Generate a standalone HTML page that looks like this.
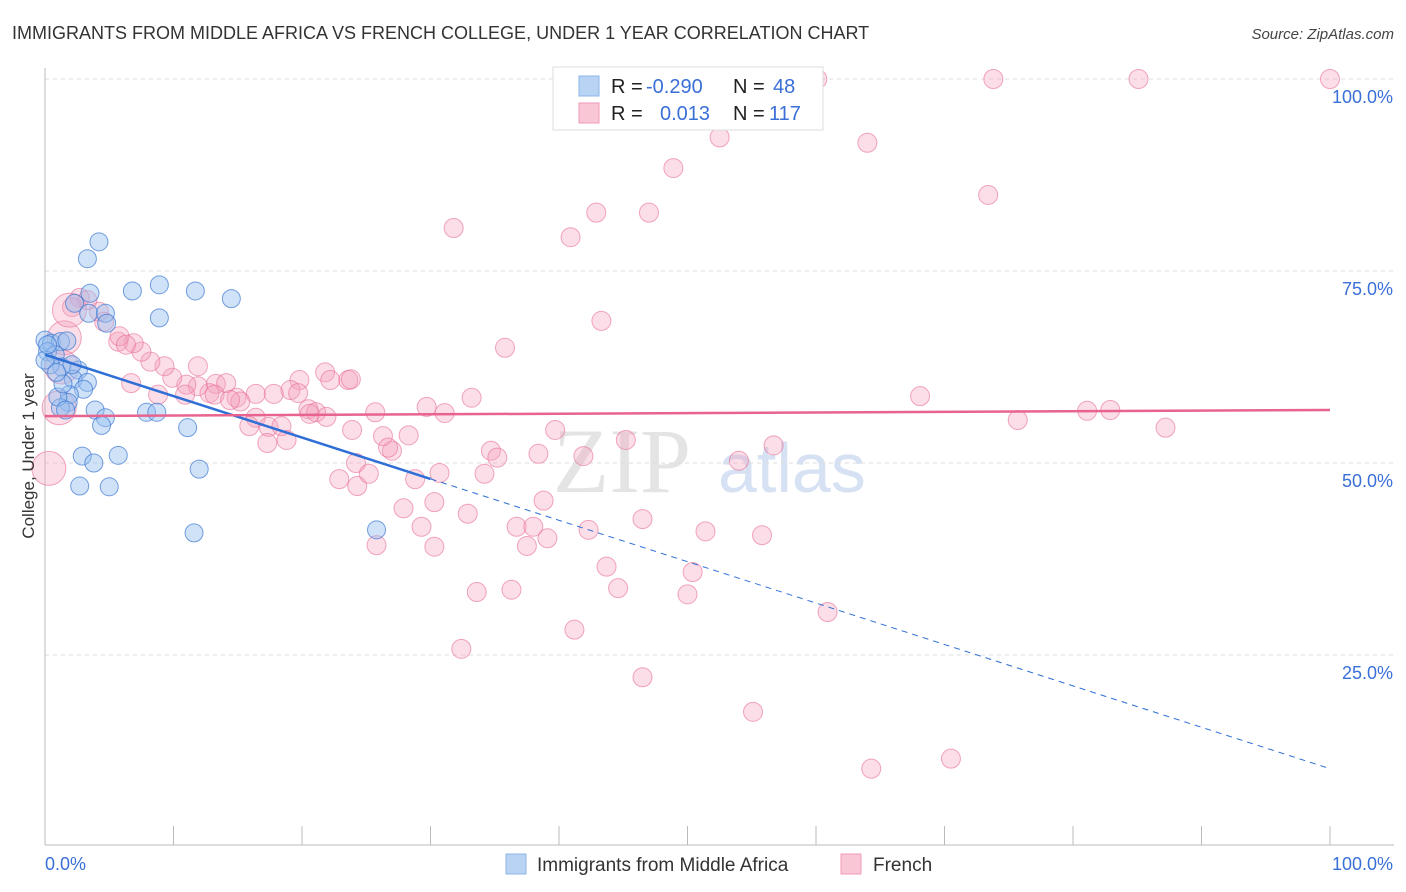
<!DOCTYPE html>
<html><head><meta charset="utf-8"><style>
body{margin:0;background:#fff;font-family:"Liberation Sans",sans-serif;}
svg{display:block}
</style></head><body>
<svg id="chart" width="1406" height="892" xmlns="http://www.w3.org/2000/svg">
<text x="12" y="39" font-size="18" fill="#333">IMMIGRANTS FROM MIDDLE AFRICA VS FRENCH COLLEGE, UNDER 1 YEAR CORRELATION CHART</text>
<text x="1394" y="39" font-size="15" fill="#444" text-anchor="end" font-style="italic">Source: ZipAtlas.com</text>
<g>
<text x="553" y="492" font-size="92" font-family="Liberation Serif,serif" fill="#e4e4e4">ZIP</text>
<text x="718" y="492" font-size="70" fill="#d6e2f4">atlas</text>
</g>
<g id="grid"></g>
<g id="axes"></g>
<g id="pink"></g>
<g id="blue"></g>
<g id="trends"></g>
<text transform="translate(34,456) rotate(-90)" font-size="17" fill="#333" text-anchor="middle">College, Under 1 year</text>
<g>
<rect x="553" y="67" width="270" height="63" fill="#fff" stroke="#ddd"/>
<rect x="579" y="76" width="20" height="20" fill="#b9d3f5" stroke="#8db4e8"/>
<rect x="579" y="103" width="20" height="20" fill="#f9c6d6" stroke="#f09ab5"/>
<text x="611" y="93" font-size="20" fill="#222">R = </text><text x="646" y="93" font-size="20" fill="#3a6fd8">-0.290</text>
<text x="733" y="93" font-size="20" fill="#222">N = </text><text x="773" y="93" font-size="20" fill="#3a6fd8">48</text>
<text x="611" y="120" font-size="20" fill="#222">R = </text><text x="660" y="120" font-size="20" fill="#3a6fd8">0.013</text>
<text x="733" y="120" font-size="20" fill="#222">N = </text><text x="769" y="120" font-size="20" fill="#3a6fd8">117</text>
</g>
<g>
<rect x="506" y="854" width="20" height="20" fill="#b9d3f5" stroke="#8db4e8"/>
<text x="537" y="871" font-size="19" fill="#333">Immigrants from Middle Africa</text>
<rect x="841" y="854" width="20" height="20" fill="#f9c6d6" stroke="#f09ab5"/>
<text x="873" y="871" font-size="19" fill="#333">French</text>
</g>
</svg>
<script>
const yTicks=[25,50,75,100];
const yTickLabels=["25.0%","50.0%","75.0%","100.0%"];
const xTickLabels=["0.0%","100.0%"];
const blueX=[4.2,3.3,6.8,8.9,11.7,14.5,3.5,8.9,2.3,3.4,4.7,4.8,0,0.5,1.2,1.7,0.2,0.8,1.3,0.4,2.6,2.2,3.3,3.0,1.9,1.8,1.2,3.9,4.7,7.9,8.7,4.4,11.1,2.9,5.7,3.8,12.0,2.7,5.0,11.6,25.8,1.0,1.4,2.1,0,0.9,1.6,0.2];
const blueY=[78.8,76.6,72.4,73.2,72.4,71.4,72.1,68.9,70.8,69.5,69.5,68.2,66.0,65.6,65.8,65.9,64.5,64.1,62.5,62.8,62.1,60.9,60.5,59.6,58.9,57.9,57.2,56.9,55.9,56.6,56.6,54.9,54.6,50.9,51.0,50.0,49.2,47.0,46.9,40.9,41.3,58.6,60.3,62.8,63.4,61.8,56.9,65.4];
const pinkX=[60.1,73.8,85.1,100,52.5,64.0,48.9,73.4,42.9,47.0,31.8,40.9,43.3,35.8,68.1,75.7,81.1,82.9,87.2,56.7,54.0,45.2,41.9,39.7,38.4,34.7,35.2,34.2,30.7,28.3,27.0,26.3,26.7,24.2,22.9,24.3,25.2,28.8,27.9,29.3,32.9,30.3,38.8,36.7,38.0,39.1,37.5,42.3,46.5,51.4,55.8,43.7,50.4,44.6,50.0,36.3,33.6,60.9,41.2,32.4,46.5,55.1,64.3,70.5,25.8,30.3,21.8,23.6,22.2,23.8,19.8,19.1,17.8,16.4,14.9,15.2,13.3,14.1,11.9,12.8,11.9,11.0,9.9,9.3,8.2,7.5,6.9,5.7,5.8,6.3,4.6,4.2,2.7,3.3,2.1,1.5,1.1,0.3,1.3,10.9,8.8,6.7,16.4,15.9,17.4,18.4,18.8,17.3,20.5,21.1,21.9,31.1,29.7,33.2,25.7,23.9,19.7,13.2,14.4,20.6,1.9];
const pinkY=[100,100,100,100,92.4,91.7,88.4,84.9,82.6,82.6,80.6,79.4,68.5,65.0,58.7,55.6,56.8,56.9,54.6,52.3,50.3,53.0,50.9,54.3,51.2,51.6,50.7,48.6,48.7,53.6,51.6,53.5,52.0,50.0,47.9,47.0,48.6,47.9,44.1,41.7,43.4,44.9,45.1,41.7,41.7,40.2,39.2,41.3,42.7,41.1,40.6,36.5,35.8,33.7,32.9,33.5,33.2,30.6,28.3,25.8,22.1,17.6,10.2,11.5,39.3,39.1,61.8,60.8,60.8,60.9,60.8,59.5,59.0,59.0,58.5,58.0,60.3,60.4,62.6,59.1,60.0,60.2,61.1,62.6,63.2,64.5,65.6,65.8,66.5,65.4,68.4,69.7,71.5,71.2,70.3,66.3,57.2,49.3,62.5,58.9,58.9,60.4,55.9,54.8,54.7,54.8,53.0,52.6,57.0,56.6,56.0,56.5,57.3,58.5,56.6,54.3,59.1,58.9,58.2,56.4,69.9];
const pinkBig=[95,96,97,98,120];
const blueTrend=[64.1,10.2];
const pinkTrend=[56.1,56.9];
const NS="http://www.w3.org/2000/svg";
const X=v=>45+v*12.85, Y=v=>847-v*7.68;
function mk(parent,tag,attrs){const e=document.createElementNS(NS,tag);for(const k in attrs)e.setAttribute(k,attrs[k]);document.getElementById(parent).appendChild(e);return e;}
yTicks.forEach((t,i)=>{
 const l=mk('grid','line',{x1:45,x2:1394,y1:Y(t),y2:Y(t),stroke:'#ddd','stroke-dasharray':'4,4'});
 
 
 const tx=mk('axes','text',{x:1393,y:Y(t)+24,'font-size':18,fill:'#3a6fd8','text-anchor':'end'});
 tx.textContent=yTickLabels[i];
 
 
});
let a=mk('axes','line',{x1:45,x2:45,y1:68,y2:845,stroke:'#bbb'});


a=mk('axes','line',{x1:45,x2:1394,y1:845,y2:845,stroke:'#bbb'});


for(let i=1;i<=10;i++){
 const t=mk('axes','line',{x1:X(i*10),x2:X(i*10),y1:826,y2:845,stroke:'#bbb'});
 
 
}
let xl=mk('axes','text',{x:45,y:870,'font-size':18,fill:'#3a6fd8'});xl.textContent=xTickLabels[0];


xl=mk('axes','text',{x:1393,y:870,'font-size':18,fill:'#3a6fd8','text-anchor':'end'});xl.textContent=xTickLabels[1];


pinkX.forEach((v,i)=>{
 const big=pinkBig.includes(i);
 const c=mk('pink','circle',{cx:X(v),cy:Y(pinkY[i]),r:big?17:9.5,fill:'rgba(244,160,188,0.35)',stroke:'rgba(232,110,150,0.6)','stroke-width':1});
 
 
});
blueX.forEach((v,i)=>{
 const c=mk('blue','circle',{cx:X(v),cy:Y(blueY[i]),r:9,fill:'rgba(150,190,240,0.45)',stroke:'rgba(60,120,210,0.7)','stroke-width':1});
 
 
});
const bAt=x=>blueTrend[0]+(blueTrend[1]-blueTrend[0])*x/100;
let t=mk('trends','line',{x1:X(0),y1:Y(bAt(0)),x2:X(30),y2:Y(bAt(30)),stroke:'#2f6fd6','stroke-width':2.5});


t=mk('trends','line',{x1:X(30),y1:Y(bAt(30)),x2:X(100),y2:Y(bAt(100)),stroke:'#2f6fd6','stroke-width':1,'stroke-dasharray':'6,5'});


t=mk('trends','line',{x1:X(0),y1:Y(pinkTrend[0]),x2:X(100),y2:Y(pinkTrend[1]),stroke:'#e8648e','stroke-width':2.5});


</script>
</body></html>
